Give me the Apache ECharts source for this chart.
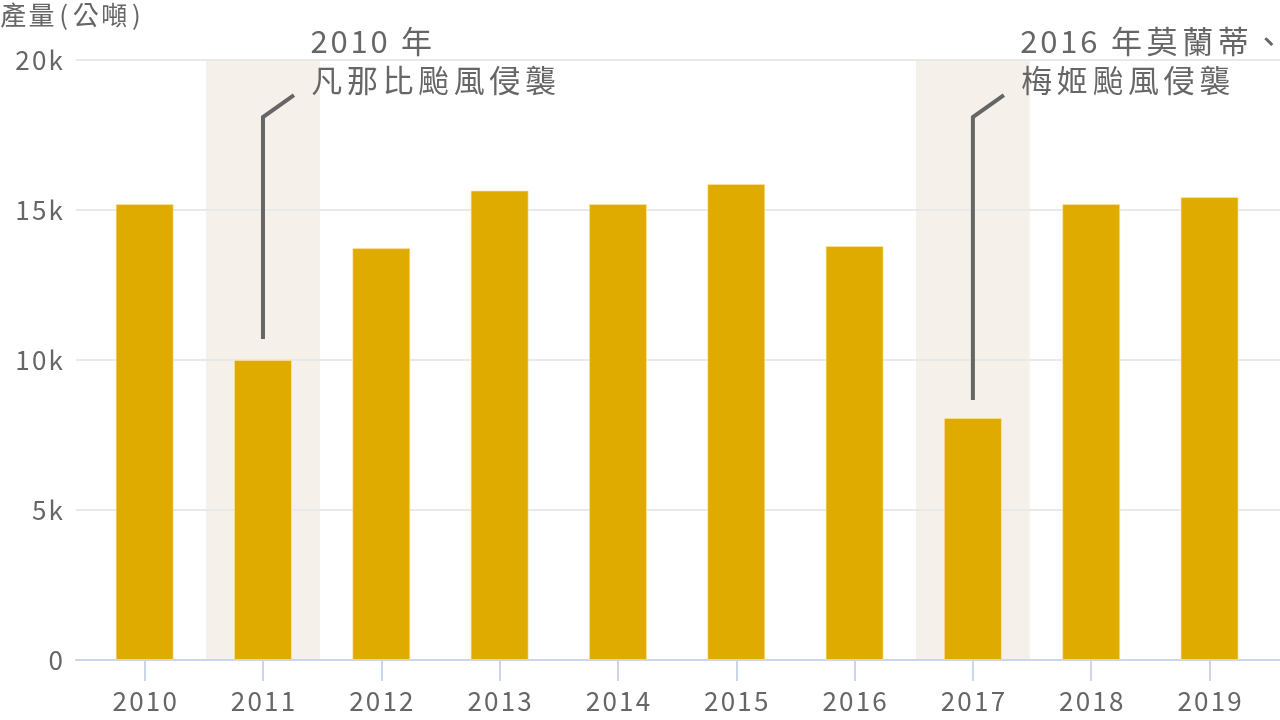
<!DOCTYPE html>
<html>
<head>
<meta charset="utf-8">
<script src="https://cdn.jsdelivr.net/npm/echarts@6/dist/echarts.min.js"></script>
<style>html,body{margin:0;padding:0;background:#fff;}#c{width:1280px;height:720px;}</style>
</head>
<body>
<div id="c"></div>
<script>
const years = ['2010','2011','2012','2013','2014','2015','2016','2017','2018','2019'];
const production = [15200, 10000, 13730, 15650, 15200, 15870, 13800, 8070, 15200, 15430];
const highlightBands = [null, 20000, null, null, null, null, null, 20000, null, null];
// [category index, line bottom value, line corner value, line end value]
const annotations = [
  [1, 10700, 18100, 18830],
  [7, 8670, 18100, 18830]
];
const annotationTexts = [
  ['2010 年', '凡那比颱風侵襲'],
  ['2016 年莫蘭蒂、', '梅姬颱風侵襲']
];
const yTicks = [0, 5000, 10000, 15000, 20000];
const yAxisTitle = '產量(公噸)';

const FONT = '"Noto Sans CJK TC", "Noto Sans", sans-serif';
const TXT = '#666666';

// wrap each character in a rich token so that letter spacing can be emulated
function spaced(s, cjkKey, latKey) {
  return Array.from(s).map(ch => {
    const k = /[\u3000-\u9fff\uff00-\uffef]/.test(ch) ? cjkKey : latKey;
    return '{' + k + '|' + ch + '}';
  }).join('');
}

const chart = echarts.init(document.getElementById('c'));
chart.setOption({
  animation: false,
  textStyle: { fontFamily: FONT },
  title: {
    text: spaced(yAxisTitle, 'c', 'l'), left: -1, top: 0, padding: 0,
    textStyle: {
      color: TXT, fontSize: 26, fontWeight: 'normal', fontFamily: FONT, lineHeight: 30,
      rich: {
        c: { color: TXT, fontSize: 26, fontFamily: FONT, lineHeight: 30, padding: [0, 1.2, 0, 1.2] },
        l: { color: TXT, fontSize: 26, fontFamily: FONT, lineHeight: 30, padding: [0, 3.5, 0, 3.5] }
      }
    }
  },
  grid: [
    { left: 76, right: 0, top: 60, bottom: 60 },
    { left: 85.5, right: 11.3, top: 60, bottom: 60 }
  ],
  xAxis: [
    { gridIndex: 0, type: 'value', min: 0, max: 1, show: true,
      axisLine: { show: true, lineStyle: { color: '#ccd6eb', width: 2 } },
      axisTick: { show: false }, axisLabel: { show: false }, splitLine: { show: false } },
    { gridIndex: 1, type: 'category', data: years,
      axisLine: { show: false },
      axisTick: { show: true, alignWithLabel: true, interval: 0, length: 21, lineStyle: { color: '#ccd6eb', width: 2 } },
      axisLabel: { color: TXT, fontSize: 26, margin: 28, fontFamily: FONT, interval: 0, hideOverlap: false,
        formatter: v => spaced(v, 'd', 'd'),
        rich: { d: { color: TXT, fontSize: 26, fontFamily: FONT, padding: [0, 1.1, 0, 1.1] } } } },
    { gridIndex: 1, type: 'category', data: years, show: false }
  ],
  yAxis: [
    { gridIndex: 0, type: 'value', min: yTicks[0], max: yTicks[yTicks.length-1], interval: 5000,
      axisLine: { show: false }, axisTick: { show: false },
      axisLabel: { color: TXT, fontSize: 26, margin: 12, fontFamily: FONT,
        formatter: v => spaced(v === 0 ? '0' : (v / 1000) + 'k', 'd', 'd'),
        rich: { d: { color: TXT, fontSize: 26, fontFamily: FONT, padding: [0, 1.1, 0, 1.1] } } },
      splitLine: { show: true, lineStyle: { color: '#e9e9e9', width: 2 } } },
    { gridIndex: 1, type: 'value', min: 0, max: 20000, show: false, splitLine: { show: false } }
  ],
  series: [
    { type: 'bar', xAxisIndex: 2, yAxisIndex: 1, data: highlightBands, barWidth: 114, z: -1,
      itemStyle: { color: '#f5f1ea' }, silent: true },
    { type: 'bar', xAxisIndex: 1, yAxisIndex: 1, data: production, barWidth: 58, z: 2,
      itemStyle: { color: '#e0ab00', borderColor: 'rgba(255,230,160,0.6)', borderWidth: 1 } },
    { type: 'custom', xAxisIndex: 1, yAxisIndex: 1, data: annotations, z: 5,
      renderItem: function (params, api) {
        const i = params.dataIndex;
        const p0 = api.coord([api.value(0), api.value(1)]);
        const p1 = api.coord([api.value(0), api.value(2)]);
        const p2 = [p1[0] + 31, api.coord([api.value(0), api.value(3)])[1]];
        const txt = annotationTexts[i].map(line => spaced(line, 'c', 'l')).join('\n');
        return { type: 'group', children: [
          { type: 'polyline', shape: { points: [p0, p1, p2] },
            style: { stroke: '#666666', lineWidth: 4, fill: null, lineJoin: 'miter' } },
          { type: 'text', x: p2[0] + 15, y: p2[1] - 34,
            style: { text: txt, fill: TXT, fontSize: 31, fontFamily: FONT,
              lineHeight: 39, verticalAlign: 'middle', align: 'left',
              rich: {
                c: { fill: TXT, fontSize: 31, fontFamily: FONT, lineHeight: 39, padding: [0, 2.3, 0, 2.3] },
                l: { fill: TXT, fontSize: 31, fontFamily: FONT, lineHeight: 39, padding: [0, 1.4, 0, 1.4] }
              } } }
        ] };
      } }
  ]
});
</script>
</body>
</html>
